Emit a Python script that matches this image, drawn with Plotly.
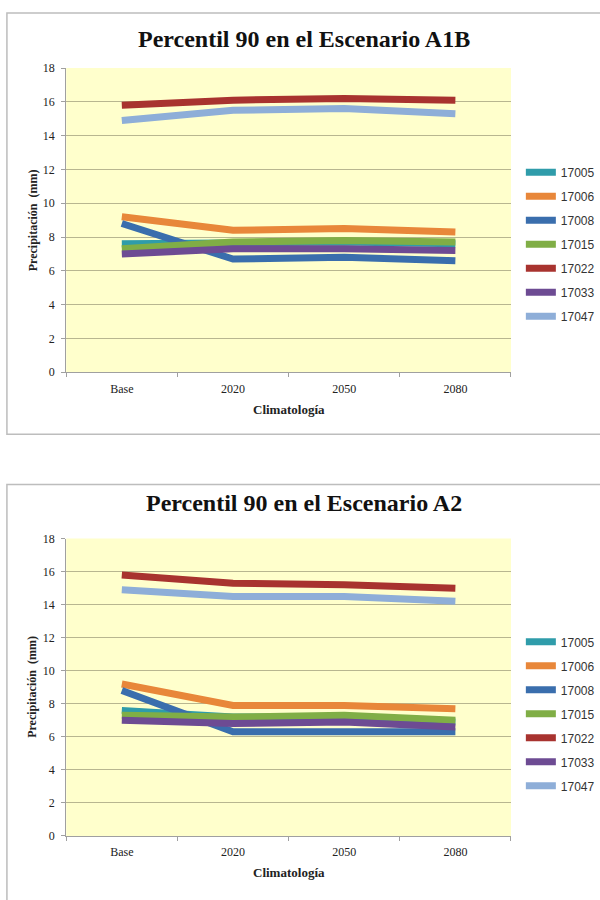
import plotly.graph_objects as go

categories = ["Base", "2020", "2050", "2080"]
stations = ["17005", "17006", "17008", "17015", "17022", "17033", "17047"]

a1b_17005 = [7.6, 7.7, 7.7, 7.6]
a1b_17006 = [9.2, 8.4, 8.5, 8.3]
a1b_17008 = [8.8, 6.7, 6.8, 6.6]
a1b_17015 = [7.3, 7.7, 7.8, 7.7]
a1b_17022 = [15.8, 16.1, 16.2, 16.1]
a1b_17033 = [7.0, 7.3, 7.3, 7.2]
a1b_17047 = [14.9, 15.5, 15.6, 15.3]

a2_17005 = [7.6, 7.2, 7.2, 6.9]
a2_17006 = [9.2, 7.9, 7.9, 7.7]
a2_17008 = [8.8, 6.3, 6.3, 6.3]
a2_17015 = [7.3, 7.2, 7.3, 7.0]
a2_17022 = [15.8, 15.3, 15.2, 15.0]
a2_17033 = [7.0, 6.8, 6.9, 6.6]
a2_17047 = [14.9, 14.5, 14.5, 14.2]

yticks = [0, 2, 4, 6, 8, 10, 12, 14, 16, 18]

colors = ["#2F9CAA", "#E8873A", "#3A6EAD", "#80AE46", "#A8332F", "#6D4B93", "#8EAED8"]

a1b = [a1b_17005, a1b_17006, a1b_17008, a1b_17015, a1b_17022, a1b_17033, a1b_17047]
a2 = [a2_17005, a2_17006, a2_17008, a2_17015, a2_17022, a2_17033, a2_17047]

W, H = 600, 900
def px(x):
    return x / W
def py(y):
    return 1 - y / H

fig = go.Figure()
for name, vals, col in zip(stations, a1b, colors):
    fig.add_trace(go.Scatter(x=categories, y=vals, name=name, mode="lines",
                             line=dict(color=col, width=7), xaxis="x", yaxis="y",
                             legend="legend", legendgroup="a" + name))
for name, vals, col in zip(stations, a2, colors):
    fig.add_trace(go.Scatter(x=categories, y=vals, name=name, mode="lines",
                             line=dict(color=col, width=7), xaxis="x2", yaxis="y2",
                             legend="legend2", legendgroup="b" + name))

serif = "Liberation Serif"
grid = "#B8B690"
axcol = "#A0A0A0"

def xax(anchor):
    return dict(type="category", range=[-0.5, 3.5], domain=[px(67), px(517)], anchor=anchor,
                showgrid=False, showline=True, linecolor=axcol, linewidth=1,
                ticks="outside", tickson="boundaries", ticklen=4, tickcolor=axcol,
                tickfont=dict(family=serif, size=12, color="#222"), ticklabelstandoff=5,
                fixedrange=True)

def yax(anchor, dom):
    return dict(range=[0, 18], tickvals=yticks, domain=dom, anchor=anchor,
                showgrid=True, gridcolor=grid, gridwidth=1, zeroline=False,
                showline=True, linecolor=axcol, linewidth=1,
                ticks="outside", ticklen=4, tickcolor=axcol,
                tickfont=dict(family=serif, size=12, color="#222"), ticklabelstandoff=4,
                fixedrange=True)

legfont = dict(family="Liberation Sans", size=12, color="#333")

fig.update_layout(
    width=W, height=H,
    margin=dict(l=0, r=0, t=0, b=0),
    paper_bgcolor="white",
    plot_bgcolor="rgba(0,0,0,0)",
    xaxis=xax("y"),
    yaxis=yax("x", [py(371), py(62)]),
    xaxis2=xax("y2"),
    yaxis2=yax("x2", [py(842), py(540)]),
    legend=dict(x=px(527), y=py(241), xanchor="left", yanchor="middle",
                font=legfont, tracegroupgap=5, itemwidth=30, bgcolor="rgba(0,0,0,0)"),
    legend2=dict(x=px(527), y=py(718), xanchor="left", yanchor="middle",
                 font=legfont, tracegroupgap=5, itemwidth=30, bgcolor="rgba(0,0,0,0)"),
    shapes=[
        dict(type="rect", xref="paper", yref="paper", x0=px(67), x1=px(517),
             y0=py(371), y1=py(62), fillcolor="#FFFFCC", line=dict(width=0), layer="below"),
        dict(type="rect", xref="paper", yref="paper", x0=px(67), x1=px(517),
             y0=py(842), y1=py(540), fillcolor="#FFFFCC", line=dict(width=0), layer="below"),
        dict(type="rect", xref="paper", yref="paper", x0=px(7), x1=1.02,
             y0=py(434), y1=py(6), line=dict(color="#BDBDBD", width=1.5)),
        dict(type="rect", xref="paper", yref="paper", x0=px(7), x1=1.02,
             y0=-0.02, y1=py(485), line=dict(color="#BDBDBD", width=1.5)),
    ],
    annotations=[
        dict(text="<b>Percentil 90 en el Escenario A1B</b>", x=px(308), y=py(33),
             xref="paper", yref="paper", showarrow=False, xanchor="center", yanchor="middle",
             font=dict(family=serif, size=24, color="#111")),
        dict(text="<b>Percentil 90 en el Escenario A2</b>", x=px(308), y=py(504),
             xref="paper", yref="paper", showarrow=False, xanchor="center", yanchor="middle",
             font=dict(family=serif, size=24, color="#111")),
        dict(text="<b>Precipitación  (mm)</b>", x=px(33), y=py(217), textangle=-90,
             xref="paper", yref="paper", showarrow=False, xanchor="center", yanchor="middle",
             font=dict(family=serif, size=12, color="#222")),
        dict(text="<b>Precipitación  (mm)</b>", x=px(33), y=py(691), textangle=-90,
             xref="paper", yref="paper", showarrow=False, xanchor="center", yanchor="middle",
             font=dict(family=serif, size=12, color="#222")),
        dict(text="<b>Climatología</b>", x=px(292), y=py(409),
             xref="paper", yref="paper", showarrow=False, xanchor="center", yanchor="middle",
             font=dict(family=serif, size=13, color="#222")),
        dict(text="<b>Climatología</b>", x=px(292), y=py(879),
             xref="paper", yref="paper", showarrow=False, xanchor="center", yanchor="middle",
             font=dict(family=serif, size=13, color="#222")),
    ],
)

fig.write_html("out.html", config={"displayModeBar": False},
               post_script="document.body.style.margin='0';document.body.style.overflow='hidden';")
